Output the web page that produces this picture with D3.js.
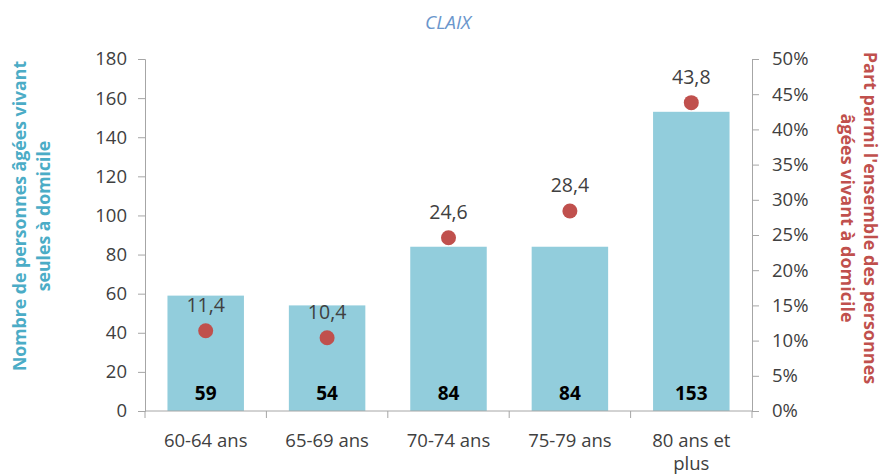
<!DOCTYPE html>
<html>
<head>
<meta charset="utf-8">
<script src="https://cdn.jsdelivr.net/npm/d3@7"></script>
<style>
  body { margin: 0; background: #fff; }
  text { font-family: "Open Sans", sans-serif; }
</style>
</head>
<body>
<div id="chart"></div>
<script>
// data
const categories = ["60-64 ans", "65-69 ans", "70-74 ans", "75-79 ans", "80 ans et plus"];
const counts = [59, 54, 84, 84, 153];
const shares = [11.4, 10.4, 24.6, 28.4, 43.8];
const leftTicks = [0, 20, 40, 60, 80, 100, 120, 140, 160, 180];
const rightTicks = [0, 5, 10, 15, 20, 25, 30, 35, 40, 45, 50];

const width = 883, height = 474;
const margin = {top: 59, right: 131, bottom: 63, left: 145};
const iw = width - margin.left - margin.right,
      ih = height - margin.top - margin.bottom;

const svg = d3.select("#chart").append("svg")
    .attr("width", width).attr("height", height);

const g = svg.append("g")
    .attr("transform", "translate(" + margin.left + "," + margin.top + ")");

let x = d3.scaleBand().domain(categories).range([0, iw]).paddingInner(0.37).paddingOuter(0.185);
let xTicks = d3.scaleBand().domain(categories).range([0, iw]);
let yL = d3.scaleLinear().domain([0, 180]).range([ih, 0]);
let yR = d3.scaleLinear().domain([0, 50]).range([ih, 0]);

const axisColor = "#a6a6a6", textColor = "#404040";

// bars
g.selectAll(".bar")
  .data(counts)
  .enter().append("rect")
    .attr("x", (d, i) => x(categories[i]))
    .attr("y", d => yL(d))
    .attr("width", x.bandwidth())
    .attr("height", d => ih - yL(d))
    .attr("fill", "#92cddc");

// left axis
let la = g.append("g").call(d3.axisLeft(yL).tickValues(leftTicks).tickSize(7).tickPadding(11));
// right axis
let ra = g.append("g").attr("transform", "translate(" + iw + ",0)")
  .call(d3.axisRight(yR).tickValues(rightTicks).tickSize(7).tickPadding(13).tickFormat(d => d + "%"));
// bottom axis line + ticks between categories
let ba = g.append("g").attr("transform", "translate(0," + ih + ")");
ba.append("line").attr("x1", 0).attr("x2", iw).attr("stroke", axisColor);
ba.selectAll(".tk")
  .data(categories.concat(["end"]))
  .enter().append("line")
    .attr("x1", (d, i) => i < categories.length ? xTicks(d) : iw)
    .attr("x2", (d, i) => i < categories.length ? xTicks(d) : iw)
    .attr("y1", 0).attr("y2", 7)
    .attr("stroke", axisColor);

[la, ra].forEach(a => {
  a.select(".domain").attr("stroke", axisColor);
  a.selectAll(".tick line").attr("stroke", axisColor);
  a.selectAll(".tick text").attr("fill", textColor).style("font-size", "18.5px");
});

// category labels
ba.selectAll(".cat")
  .data(categories)
  .enter().append("text")
    .attr("x", d => x(d) + x.bandwidth() / 2)
    .attr("text-anchor", "middle")
    .attr("fill", textColor)
    .style("font-size", "18.5px")
    .each(function (d) {
      let t = d3.select(this);
      let lines = d === "80 ans et plus" ? ["80 ans et", "plus"] : [d];
      lines.forEach((l, k) => t.append("tspan").attr("x", x(d) + x.bandwidth() / 2)
        .attr("y", 36 + k * 23).text(l));
    });

// bar value labels
g.selectAll(".cnt")
  .data(counts)
  .enter().append("text")
    .attr("x", (d, i) => x(categories[i]) + x.bandwidth() / 2)
    .attr("y", ih - 11)
    .attr("text-anchor", "middle")
    .attr("fill", "#000")
    .style("font-size", "19px")
    .style("font-weight", "bold")
    .text(d => d);

// share dots
g.selectAll(".dot")
  .data(shares)
  .enter().append("circle")
    .attr("cx", (d, i) => x(categories[i]) + x.bandwidth() / 2)
    .attr("cy", d => yR(d))
    .attr("r", 7.5)
    .attr("fill", "#c0504d");

g.selectAll(".sh")
  .data(shares)
  .enter().append("text")
    .attr("x", (d, i) => x(categories[i]) + x.bandwidth() / 2)
    .attr("y", d => yR(d) - 19)
    .attr("text-anchor", "middle")
    .attr("fill", textColor)
    .style("font-size", "19.5px")
    .text(d => d.toLocaleString("fr-FR"));

// title
svg.append("text")
  .attr("x", 448).attr("y", 29)
  .attr("text-anchor", "middle")
  .attr("fill", "#6a96cc")
  .style("font-size", "19px")
  .style("font-style", "italic")
  .text("CLAIX");

// left axis title
let lt = svg.append("text")
  .attr("transform", "translate(26,216) rotate(-90)")
  .attr("text-anchor", "middle")
  .attr("fill", "#4bacc6")
  .style("font-size", "17.7px")
  .style("font-weight", "bold");
lt.append("tspan").attr("x", 0).attr("y", 0).text("Nombre de personnes âgées vivant");
lt.append("tspan").attr("x", 0).attr("y", 24).text("seules à domicile");

// right axis title
let rt = svg.append("text")
  .attr("transform", "translate(864,218) rotate(90)")
  .attr("text-anchor", "middle")
  .attr("fill", "#c0504d")
  .style("font-size", "18px")
  .style("font-weight", "bold");
rt.append("tspan").attr("x", 0).attr("y", 0).text("Part parmi l'ensemble des personnes");
rt.append("tspan").attr("x", 0).attr("y", 23).text("âgées vivant à domicile");
</script>
</body>
</html>
